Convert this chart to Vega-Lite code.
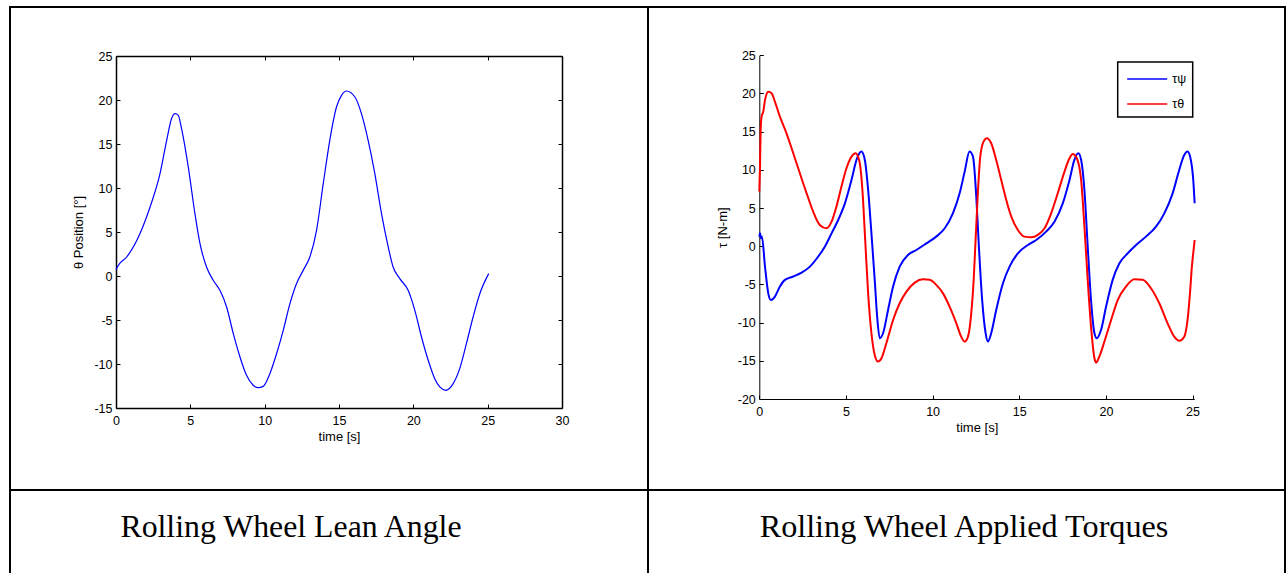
{
  "$schema": "https://vega.github.io/schema/vega-lite/v6.json",
  "background": "white",
  "padding": {"left": 9, "top": 6, "right": 0, "bottom": 0},
  "spacing": 0,
  "bounds": "flush",
  "columns": 2,
  "resolve": {"legend": {"color": "independent"}},
  "config": {
    "view": {"stroke": "black", "strokeWidth": 2},
    "font": "Liberation Sans",
    "legend": {"strokeWidth": 1.5},
    "axis": {
      "grid": false,
      "labelFont": "Liberation Sans",
      "labelFontSize": 12.5,
      "labelColor": "black",
      "labelFlush": false,
      "labelOverlap": false,
      "titleFont": "Liberation Sans",
      "titleFontSize": 13,
      "titleFontWeight": "normal",
      "titleColor": "black",
      "tickColor": "black",
      "tickWidth": 1,
      "domainColor": "black"
    }
  },
  "datasets": {
    "lean": [
      {"t": 0, "theta": 0.7}, {"t": 0.15, "theta": 1.2}, {"t": 0.72, "theta": 2.16}, {"t": 1.61, "theta": 4.81},
      {"t": 2.29, "theta": 7.84}, {"t": 2.96, "theta": 11.63}, {"t": 3.41, "theta": 15.42}, {"t": 3.74, "theta": 17.9},
      {"t": 3.97, "theta": 18.45}, {"t": 4.19, "theta": 18.26}, {"t": 4.41, "theta": 16.74}, {"t": 4.86, "theta": 12.39},
      {"t": 5.31, "theta": 7.08}, {"t": 5.65, "theta": 3.67}, {"t": 6.09, "theta": 1.02}, {"t": 6.54, "theta": -0.49},
      {"t": 6.99, "theta": -1.63}, {"t": 7.44, "theta": -3.52}, {"t": 7.89, "theta": -6.55}, {"t": 8.34, "theta": -9.2},
      {"t": 8.78, "theta": -11.29}, {"t": 9.23, "theta": -12.42}, {"t": 9.57, "theta": -12.69}, {"t": 9.9, "theta": -12.54},
      {"t": 10.35, "theta": -11.1}, {"t": 10.8, "theta": -8.83}, {"t": 11.25, "theta": -6.17}, {"t": 11.7, "theta": -3.14},
      {"t": 12.14, "theta": -0.87}, {"t": 12.59, "theta": 0.64}, {"t": 13.04, "theta": 2.16}, {"t": 13.49, "theta": 5.19},
      {"t": 13.94, "theta": 10.49}, {"t": 14.38, "theta": 15.42}, {"t": 14.83, "theta": 19.2}, {"t": 15.17, "theta": 20.53},
      {"t": 15.5, "theta": 21.02}, {"t": 16.07, "theta": 20.34}, {"t": 16.51, "theta": 18.45}, {"t": 16.96, "theta": 15.42},
      {"t": 17.41, "theta": 11.63}, {"t": 17.86, "theta": 7.08}, {"t": 18.31, "theta": 3.3}, {"t": 18.64, "theta": 1.02},
      {"t": 19.09, "theta": -0.3}, {"t": 19.65, "theta": -1.63}, {"t": 20.1, "theta": -3.9}, {"t": 20.55, "theta": -6.93},
      {"t": 21.0, "theta": -9.58}, {"t": 21.44, "theta": -11.67}, {"t": 21.78, "theta": -12.61}, {"t": 22.18, "theta": -12.99},
      {"t": 22.68, "theta": -12.23}, {"t": 23.12, "theta": -10.53}, {"t": 23.57, "theta": -7.69}, {"t": 24.02, "theta": -4.66},
      {"t": 24.47, "theta": -2.01}, {"t": 25.07, "theta": 0.27}
    ],
    "torque": [
      {"t": 0, "v": 1.26, "s": "τψ"}, {"t": 0.04, "v": 1.7, "s": "τψ"}, {"t": 0.1, "v": 1.05, "s": "τψ"}, {"t": 0.15, "v": 1.26, "s": "τψ"},
      {"t": 0.33, "v": -2.7, "s": "τψ"}, {"t": 0.52, "v": -6.2, "s": "τψ"}, {"t": 0.67, "v": -7.05, "s": "τψ"}, {"t": 0.9, "v": -6.6, "s": "τψ"},
      {"t": 1.19, "v": -5.28, "s": "τψ"}, {"t": 1.48, "v": -4.4, "s": "τψ"}, {"t": 1.96, "v": -3.96, "s": "τψ"}, {"t": 2.44, "v": -3.46, "s": "τψ"},
      {"t": 2.92, "v": -2.67, "s": "τψ"}, {"t": 3.4, "v": -1.34, "s": "τψ"}, {"t": 3.78, "v": -0.05, "s": "τψ"}, {"t": 4.17, "v": 1.69, "s": "τψ"},
      {"t": 4.55, "v": 3.44, "s": "τψ"}, {"t": 4.94, "v": 5.62, "s": "τψ"}, {"t": 5.32, "v": 8.68, "s": "τψ"}, {"t": 5.61, "v": 11.3, "s": "τψ"},
      {"t": 5.89, "v": 12.39, "s": "τψ"}, {"t": 6.09, "v": 11.3, "s": "τψ"}, {"t": 6.28, "v": 7.37, "s": "τψ"}, {"t": 6.47, "v": 1.69, "s": "τψ"},
      {"t": 6.66, "v": -4.4, "s": "τψ"}, {"t": 6.8, "v": -9.2, "s": "τψ"}, {"t": 6.95, "v": -12.04, "s": "τψ"}, {"t": 7.14, "v": -11.39, "s": "τψ"},
      {"t": 7.43, "v": -8.34, "s": "τψ"}, {"t": 7.72, "v": -5.28, "s": "τψ"}, {"t": 8.1, "v": -2.67, "s": "τψ"}, {"t": 8.58, "v": -1.14, "s": "τψ"},
      {"t": 9.06, "v": -0.49, "s": "τψ"}, {"t": 9.64, "v": 0.38, "s": "τψ"}, {"t": 10.21, "v": 1.26, "s": "τψ"}, {"t": 10.7, "v": 2.35, "s": "τψ"},
      {"t": 11.17, "v": 4.31, "s": "τψ"}, {"t": 11.56, "v": 6.93, "s": "τψ"}, {"t": 11.85, "v": 9.77, "s": "τψ"}, {"t": 12.13, "v": 12.39, "s": "τψ"},
      {"t": 12.33, "v": 11.73, "s": "τψ"}, {"t": 12.52, "v": 6.49, "s": "τψ"}, {"t": 12.67, "v": -0.05, "s": "τψ"}, {"t": 12.86, "v": -7.05, "s": "τψ"},
      {"t": 13.06, "v": -11.39, "s": "τψ"}, {"t": 13.19, "v": -12.48, "s": "τψ"}, {"t": 13.38, "v": -11.39, "s": "τψ"}, {"t": 13.67, "v": -8.34, "s": "τψ"},
      {"t": 14.06, "v": -4.85, "s": "τψ"}, {"t": 14.44, "v": -2.67, "s": "τψ"}, {"t": 14.92, "v": -0.92, "s": "τψ"}, {"t": 15.5, "v": 0.17, "s": "τψ"},
      {"t": 15.98, "v": 0.82, "s": "τψ"}, {"t": 16.55, "v": 1.91, "s": "τψ"}, {"t": 17.03, "v": 3.22, "s": "τψ"}, {"t": 17.51, "v": 5.62, "s": "τψ"},
      {"t": 17.9, "v": 8.68, "s": "τψ"}, {"t": 18.18, "v": 11.3, "s": "τψ"}, {"t": 18.41, "v": 12.17, "s": "τψ"}, {"t": 18.57, "v": 11.3, "s": "τψ"},
      {"t": 18.76, "v": 7.37, "s": "τψ"}, {"t": 18.95, "v": -0.05, "s": "τψ"}, {"t": 19.14, "v": -7.05, "s": "τψ"}, {"t": 19.34, "v": -11.39, "s": "τψ"},
      {"t": 19.47, "v": -12.04, "s": "τψ"}, {"t": 19.72, "v": -10.95, "s": "τψ"}, {"t": 20.01, "v": -7.9, "s": "τψ"}, {"t": 20.39, "v": -4.4, "s": "τψ"},
      {"t": 20.78, "v": -2.23, "s": "τψ"}, {"t": 21.26, "v": -0.92, "s": "τψ"}, {"t": 21.74, "v": 0.17, "s": "τψ"}, {"t": 22.31, "v": 1.26, "s": "τψ"},
      {"t": 22.89, "v": 2.57, "s": "τψ"}, {"t": 23.37, "v": 4.31, "s": "τψ"}, {"t": 23.85, "v": 6.93, "s": "τψ"}, {"t": 24.23, "v": 9.99, "s": "τψ"},
      {"t": 24.52, "v": 11.95, "s": "τψ"}, {"t": 24.71, "v": 12.39, "s": "τψ"}, {"t": 24.9, "v": 11.3, "s": "τψ"}, {"t": 25.04, "v": 8.68, "s": "τψ"},
      {"t": 25.12, "v": 5.62, "s": "τψ"},
      {"t": 0, "v": 7.15, "s": "τθ"}, {"t": 0.04, "v": 10.42, "s": "τθ"}, {"t": 0.08, "v": 15.22, "s": "τθ"}, {"t": 0.13, "v": 16.96, "s": "τθ"},
      {"t": 0.23, "v": 17.62, "s": "τθ"}, {"t": 0.33, "v": 19.15, "s": "τθ"}, {"t": 0.52, "v": 20.24, "s": "τθ"}, {"t": 0.71, "v": 20.03, "s": "τθ"},
      {"t": 0.9, "v": 18.94, "s": "τθ"}, {"t": 1.19, "v": 16.96, "s": "τθ"}, {"t": 1.57, "v": 14.79, "s": "τθ"}, {"t": 1.96, "v": 12.17, "s": "τθ"},
      {"t": 2.34, "v": 9.55, "s": "τθ"}, {"t": 2.73, "v": 6.93, "s": "τθ"}, {"t": 3.11, "v": 4.53, "s": "τθ"}, {"t": 3.49, "v": 2.79, "s": "τθ"},
      {"t": 3.88, "v": 2.35, "s": "τθ"}, {"t": 4.17, "v": 3.22, "s": "τθ"}, {"t": 4.45, "v": 5.19, "s": "τθ"}, {"t": 4.74, "v": 7.81, "s": "τθ"},
      {"t": 5.03, "v": 10.21, "s": "τθ"}, {"t": 5.32, "v": 11.73, "s": "τθ"}, {"t": 5.55, "v": 12.17, "s": "τθ"}, {"t": 5.76, "v": 11.3, "s": "τθ"},
      {"t": 5.95, "v": 7.37, "s": "τθ"}, {"t": 6.11, "v": 0.82, "s": "τθ"}, {"t": 6.28, "v": -6.17, "s": "τθ"}, {"t": 6.47, "v": -11.39, "s": "τθ"},
      {"t": 6.66, "v": -14.23, "s": "τθ"}, {"t": 6.85, "v": -15.1, "s": "τθ"}, {"t": 7.05, "v": -14.67, "s": "τθ"}, {"t": 7.33, "v": -12.7, "s": "τθ"},
      {"t": 7.72, "v": -9.65, "s": "τθ"}, {"t": 8.1, "v": -7.47, "s": "τθ"}, {"t": 8.49, "v": -5.94, "s": "τθ"}, {"t": 8.97, "v": -4.76, "s": "τθ"},
      {"t": 9.45, "v": -4.33, "s": "τθ"}, {"t": 9.83, "v": -4.4, "s": "τθ"}, {"t": 10.21, "v": -5.06, "s": "τθ"}, {"t": 10.6, "v": -6.17, "s": "τθ"},
      {"t": 10.98, "v": -7.91, "s": "τθ"}, {"t": 11.37, "v": -10.09, "s": "τθ"}, {"t": 11.65, "v": -11.84, "s": "τθ"}, {"t": 11.85, "v": -12.5, "s": "τθ"},
      {"t": 12.04, "v": -11.84, "s": "τθ"}, {"t": 12.23, "v": -8.78, "s": "τθ"}, {"t": 12.37, "v": -4.4, "s": "τθ"}, {"t": 12.48, "v": 0.82, "s": "τθ"},
      {"t": 12.62, "v": 7.37, "s": "τθ"}, {"t": 12.75, "v": 11.73, "s": "τθ"}, {"t": 12.94, "v": 13.7, "s": "τθ"}, {"t": 13.13, "v": 14.13, "s": "τθ"},
      {"t": 13.38, "v": 13.48, "s": "τθ"}, {"t": 13.67, "v": 11.3, "s": "τθ"}, {"t": 13.96, "v": 8.68, "s": "τθ"}, {"t": 14.25, "v": 6.06, "s": "τθ"},
      {"t": 14.54, "v": 3.88, "s": "τθ"}, {"t": 14.92, "v": 2.13, "s": "τθ"}, {"t": 15.3, "v": 1.26, "s": "τθ"}, {"t": 15.69, "v": 1.17, "s": "τθ"},
      {"t": 16.07, "v": 1.48, "s": "τθ"}, {"t": 16.46, "v": 2.35, "s": "τθ"}, {"t": 16.84, "v": 4.31, "s": "τθ"}, {"t": 17.22, "v": 6.93, "s": "τθ"},
      {"t": 17.61, "v": 9.77, "s": "τθ"}, {"t": 17.9, "v": 11.52, "s": "τθ"}, {"t": 18.09, "v": 12.08, "s": "τθ"}, {"t": 18.32, "v": 11.52, "s": "τθ"},
      {"t": 18.57, "v": 8.68, "s": "τθ"}, {"t": 18.76, "v": 2.57, "s": "τθ"}, {"t": 18.95, "v": -4.4, "s": "τθ"}, {"t": 19.14, "v": -10.5, "s": "τθ"},
      {"t": 19.34, "v": -14.67, "s": "τθ"}, {"t": 19.43, "v": -15.24, "s": "τθ"}, {"t": 19.62, "v": -14.46, "s": "τθ"}, {"t": 19.91, "v": -12.5, "s": "τθ"},
      {"t": 20.3, "v": -9.65, "s": "τθ"}, {"t": 20.68, "v": -7.04, "s": "τθ"}, {"t": 21.16, "v": -5.28, "s": "τθ"}, {"t": 21.64, "v": -4.33, "s": "τθ"},
      {"t": 22.12, "v": -4.4, "s": "τθ"}, {"t": 22.6, "v": -5.5, "s": "τθ"}, {"t": 23.08, "v": -7.47, "s": "τθ"}, {"t": 23.56, "v": -10.09, "s": "τθ"},
      {"t": 23.94, "v": -11.84, "s": "τθ"}, {"t": 24.23, "v": -12.37, "s": "τθ"}, {"t": 24.52, "v": -11.84, "s": "τθ"}, {"t": 24.71, "v": -9.65, "s": "τθ"},
      {"t": 24.85, "v": -6.17, "s": "τθ"}, {"t": 24.96, "v": -2.68, "s": "τθ"}, {"t": 25.08, "v": -0.05, "s": "τθ"}, {"t": 25.12, "v": 0.82, "s": "τθ"}
    ]
  },
  "concat": [
    {
      "width": 638,
      "height": 483,
      "data": {"name": "lean"},
      "layer": [
        {
          "mark": {"type": "line", "color": "#0000ff", "strokeWidth": 1.2, "interpolate": "monotone"},
          "encoding": {
            "x": {
              "field": "t", "type": "quantitative",
              "scale": {"domain": [0, 30], "range": [106, 552], "nice": false, "zero": false},
              "axis": {"orient": "bottom", "offset": -82, "values": [0, 5, 10, 15, 20, 25, 30], "tickSize": -4, "labelPadding": 10, "domainWidth": 1.5, "title": "time [s]", "titlePadding": 4, "labelExpr": "'' + datum.value"}
            },
            "y": {
              "field": "theta", "type": "quantitative",
              "scale": {"domain": [-15, 25], "range": [401, 49], "nice": false, "zero": false},
              "axis": {"orient": "left", "offset": -106, "values": [-15, -10, -5, 0, 5, 10, 15, 20, 25], "tickSize": -4, "labelPadding": 8, "domainWidth": 1.5, "title": "θ Position [°]", "titlePadding": 8, "labelExpr": "'' + datum.value"}
            }
          }
        },
        {
          "mark": {"type": "line", "opacity": 0},
          "encoding": {
            "x": {
              "field": "t", "type": "quantitative",
              "scale": {"domain": [0, 30], "range": [106, 552], "nice": false, "zero": false},
              "axis": {"orient": "top", "offset": -49, "values": [0, 5, 10, 15, 20, 25, 30], "tickSize": -4, "labels": false, "domainWidth": 1.5, "title": null}
            },
            "y": {
              "field": "theta", "type": "quantitative",
              "scale": {"domain": [-15, 25], "range": [401, 49], "nice": false, "zero": false},
              "axis": {"orient": "right", "offset": -86, "values": [-15, -10, -5, 0, 5, 10, 15, 20, 25], "tickSize": -4, "labels": false, "domainWidth": 1.5, "title": null}
            }
          }
        }
      ],
      "resolve": {"axis": {"x": "independent", "y": "independent"}}
    },
    {
      "width": 637,
      "height": 483,
      "data": {"name": "torque"},
      "mark": {"type": "line", "strokeWidth": 2, "interpolate": "monotone"},
      "encoding": {
        "x": {
          "field": "t", "type": "quantitative",
          "scale": {"domain": [0, 25.1], "range": [111.3, 546.3], "nice": false, "zero": false},
          "axis": {"orient": "bottom", "offset": -91, "values": [0, 5, 10, 15, 20, 25], "tickSize": -4, "labelPadding": 10, "domainWidth": 1, "title": "time [s]", "titlePadding": 4, "labelExpr": "'' + datum.value"}
        },
        "y": {
          "field": "v", "type": "quantitative",
          "scale": {"domain": [-20, 25], "range": [392, 48.3], "nice": false, "zero": false},
          "axis": {"orient": "left", "offset": -111.3, "values": [-20, -15, -10, -5, 0, 5, 10, 15, 20, 25], "tickSize": -4, "labelPadding": 8, "domainWidth": 1, "title": "τ [N-m]", "titlePadding": 8, "labelExpr": "'' + datum.value"}
        },
        "color": {
          "field": "s", "type": "nominal",
          "scale": {"domain": ["τψ", "τθ"], "range": ["#0000ff", "#ff0000"]},
          "legend": {
            "orient": "none", "legendX": 469.7, "legendY": 55,
            "title": null,
            "strokeColor": "black", "padding": 6, "fillColor": "white",
            "symbolType": "M-1,0H3", "symbolSize": 400, "symbolStrokeWidth": 1.5, "symbolOffset": 2.5,
            "rowPadding": 7, "labelOffset": 24, "labelFontSize": 12.5, "labelColor": "black", "labelFont": "Liberation Sans"
          }
        }
      }
    },
    {
      "width": 638,
      "height": 93,
      "data": {"values": [{"caption": "Rolling Wheel Lean Angle"}]},
      "mark": {"type": "text", "font": "Liberation Serif", "fontSize": 31.8, "baseline": "alphabetic", "align": "center", "dx": -38, "color": "black"},
      "encoding": {
        "x": {"field": "caption", "type": "nominal", "axis": null},
        "y": {"field": "caption", "type": "nominal", "axis": null},
        "text": {"field": "caption"}
      }
    },
    {
      "width": 637,
      "height": 93,
      "data": {"values": [{"caption": "Rolling Wheel Applied Torques"}]},
      "mark": {"type": "text", "font": "Liberation Serif", "fontSize": 32.2, "baseline": "alphabetic", "align": "center", "dx": -2.5, "color": "black"},
      "encoding": {
        "x": {"field": "caption", "type": "nominal", "axis": null},
        "y": {"field": "caption", "type": "nominal", "axis": null},
        "text": {"field": "caption"}
      }
    }
  ]
}
